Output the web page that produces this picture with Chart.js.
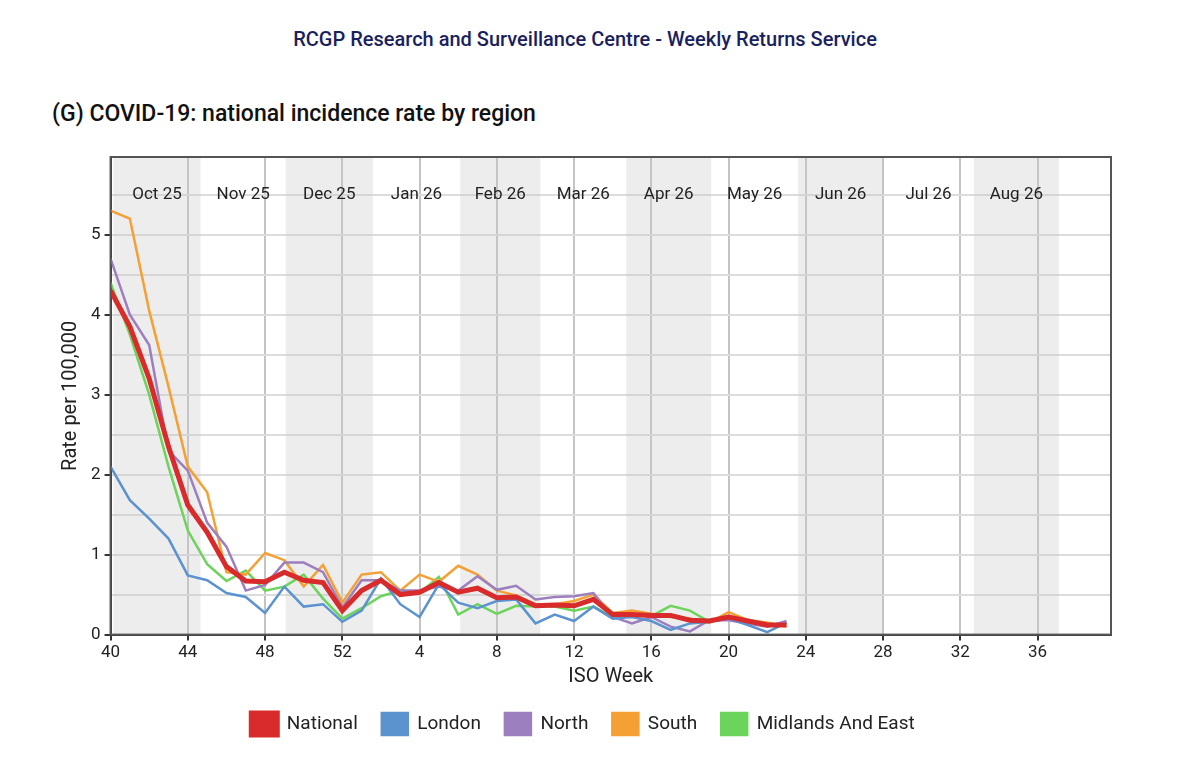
<!DOCTYPE html>
<html>
<head>
<meta charset="utf-8">
<script src="https://cdn.jsdelivr.net/npm/chart.js@4"></script>
<style>
  body { margin: 0; background: #fff; font-family: Roboto, sans-serif; }
  #wrap { position: relative; width: 1200px; height: 775px; }
  #title { position: absolute; top: 27px; width: 1170px; text-align: center; font-size: 20px; font-weight: 500; color: #1b1f5e; }
  #sub { position: absolute; top: 100px; left: 52px; font-size: 23px; font-weight: 500; color: #111; }
  canvas { position: absolute; top: 0; left: 0; }
</style>
</head>
<body>
<div id="wrap">
  <div id="title">RCGP Research and Surveillance Centre - Weekly Returns Service</div>
  <div id="sub">(G) COVID-19: national incidence rate by region</div>
  <canvas id="c" width="1200" height="775"></canvas>
</div>
<script>
// ISO weeks 40..52 then 1..39 (x index 0..51)
const weeks = [40,41,42,43,44,45,46,47,48,49,50,51,52,1,2,3,4,5,6,7,8,9,10,11,12,13,14,15,16,17,18,19,20,21,22,23,24,25,26,27,28,29,30,31,32,33,34,35,36,37,38,39];

const national = [4.3,3.85,3.2,2.35,1.62,1.28,0.85,0.67,0.66,0.78,0.68,0.65,0.3,0.55,0.68,0.5,0.53,0.65,0.53,0.58,0.46,0.47,0.36,0.37,0.36,0.44,0.25,0.25,0.24,0.24,0.18,0.17,0.22,0.17,0.12,0.12];
const london = [2.1,1.68,1.45,1.2,0.74,0.68,0.52,0.47,0.27,0.6,0.35,0.38,0.16,0.3,0.7,0.38,0.22,0.63,0.4,0.33,0.42,0.44,0.14,0.25,0.17,0.35,0.2,0.22,0.17,0.06,0.14,0.16,0.2,0.12,0.03,0.15];
const north = [4.7,4.0,3.62,2.3,2.05,1.4,1.1,0.55,0.62,0.9,0.9,0.78,0.34,0.68,0.68,0.55,0.55,0.6,0.55,0.73,0.56,0.61,0.44,0.47,0.48,0.52,0.22,0.14,0.22,0.1,0.04,0.18,0.18,0.14,0.1,0.17];
const south = [5.3,5.2,4.05,3.1,2.1,1.78,0.78,0.75,1.02,0.93,0.6,0.87,0.4,0.75,0.78,0.55,0.75,0.66,0.86,0.75,0.55,0.49,0.38,0.38,0.42,0.5,0.27,0.3,0.26,0.22,0.2,0.15,0.28,0.18,0.15,0.1];
const midlands = [4.4,3.75,3.0,2.1,1.3,0.88,0.67,0.8,0.55,0.6,0.75,0.45,0.2,0.33,0.48,0.55,0.52,0.72,0.25,0.38,0.26,0.36,0.35,0.35,0.3,0.35,0.22,0.25,0.23,0.36,0.3,0.16,0.2,0.16,0.12,0.13];

// month labels and their start positions on the week index axis
const months = ['Oct 25','Nov 25','Dec 25','Jan 26','Feb 26','Mar 26','Apr 26','May 26','Jun 26','Jul 26','Aug 26','Sep 26'];
const monthStarts = [0.15,4.66,9.07,13.58,18.1,22.25,26.7,31.1,35.6,40,44.7,49.1,53];

const pts = arr => arr.map((v, i) => ({x: i, y: v}));

const monthBands = {
  id: 'monthBands',
  beforeDatasetsDraw(chart) {
    const {ctx, chartArea: a, scales: {x}} = chart;
    ctx.save();
    ctx.beginPath();
    ctx.rect(a.left, a.top, a.right - a.left, a.bottom - a.top);
    ctx.clip();
    for (let i = 0; i < months.length; i++) {
      const x0 = x.getPixelForValue(monthStarts[i]);
      const x1 = x.getPixelForValue(monthStarts[i + 1]);
      if (i % 2 === 0) {
        ctx.fillStyle = 'rgba(200,200,200,0.32)';
        ctx.fillRect(x0, a.top, x1 - x0, a.bottom - a.top);
      }
    }
    ctx.restore();
  },
  afterDraw(chart) {
    const {ctx, chartArea: a, scales: {x}} = chart;
    ctx.save();
    ctx.font = '17px Roboto';
    ctx.fillStyle = '#222';
    ctx.textAlign = 'center';
    ctx.textBaseline = 'middle';
    for (let i = 0; i < months.length - 1; i++) {
      const x0 = x.getPixelForValue(monthStarts[i]);
      const x1 = x.getPixelForValue(monthStarts[i + 1]);
      ctx.fillText(months[i], (x0 + x1) / 2, a.top + 38);
    }
    ctx.strokeStyle = '#555';
    ctx.lineWidth = 2;
    ctx.strokeRect(a.left, a.top, a.right - a.left, a.bottom - a.top);
    ctx.restore();
  }
};

const line = (label, data, color, w) => ({
  label, data: pts(data), borderColor: color, backgroundColor: color,
  borderWidth: w, pointRadius: 0, tension: 0
});

new Chart(document.getElementById('c'), {
  type: 'line',
  data: {
    datasets: [
      line('National', national, '#d92b2b', 5),
      line('London', london, '#5b93d0', 2.5),
      line('North', north, '#9b7fbf', 2.5),
      line('South', south, '#f5a033', 2.5),
      line('Midlands And East', midlands, '#6cd45a', 2.5)
    ]
  },
  plugins: [monthBands],
  options: {
    responsive: false,
    animation: false,
    layout: { padding: { top: 157, left: 55, right: 89, bottom: 30 } },
    plugins: {
      legend: {
        position: 'bottom',
        labels: {
          font: { size: 19, family: 'Roboto' }, color: '#222',
          boxWidth: 26, boxHeight: 22, padding: 24
        }
      },
      tooltip: { enabled: false }
    },
    scales: {
      x: {
        type: 'linear', min: 0, max: 51.8,
        title: { display: true, text: 'ISO Week', font: { size: 20, family: 'Roboto' }, color: '#222', padding: 0 },
        grid: { color: '#c4c4c4', lineWidth: 2, drawTicks: true, tickLength: 6, tickColor: '#333' },
        border: { color: '#333', width: 2 },
        afterBuildTicks: s => { s.ticks = []; for (let i = 0; i < 52; i += 4) s.ticks.push({value: i}); },
        ticks: { callback: v => weeks[v], font: { size: 17, family: 'Roboto' }, color: '#222', maxRotation: 0, padding: 2 }
      },
      y: {
        min: 0, max: 5.97,
        title: { display: true, text: 'Rate per 100,000', font: { size: 20, family: 'Roboto' }, color: '#222' },
        grid: { color: '#dcdcdc', lineWidth: 2, tickLength: 6, tickColor: c => Number.isInteger(c.tick.value) ? '#333' : 'rgba(0,0,0,0)' },
        border: { color: '#333', width: 2 },
        afterBuildTicks: s => { s.ticks = []; for (let v = 0; v <= 5.5; v += 0.5) s.ticks.push({value: v}); },
        ticks: { callback: v => Number.isInteger(v) ? v : '', font: { size: 17, family: 'Roboto' }, color: '#222', padding: 4 }
      }
    }
  }
});
</script>
</body>
</html>
